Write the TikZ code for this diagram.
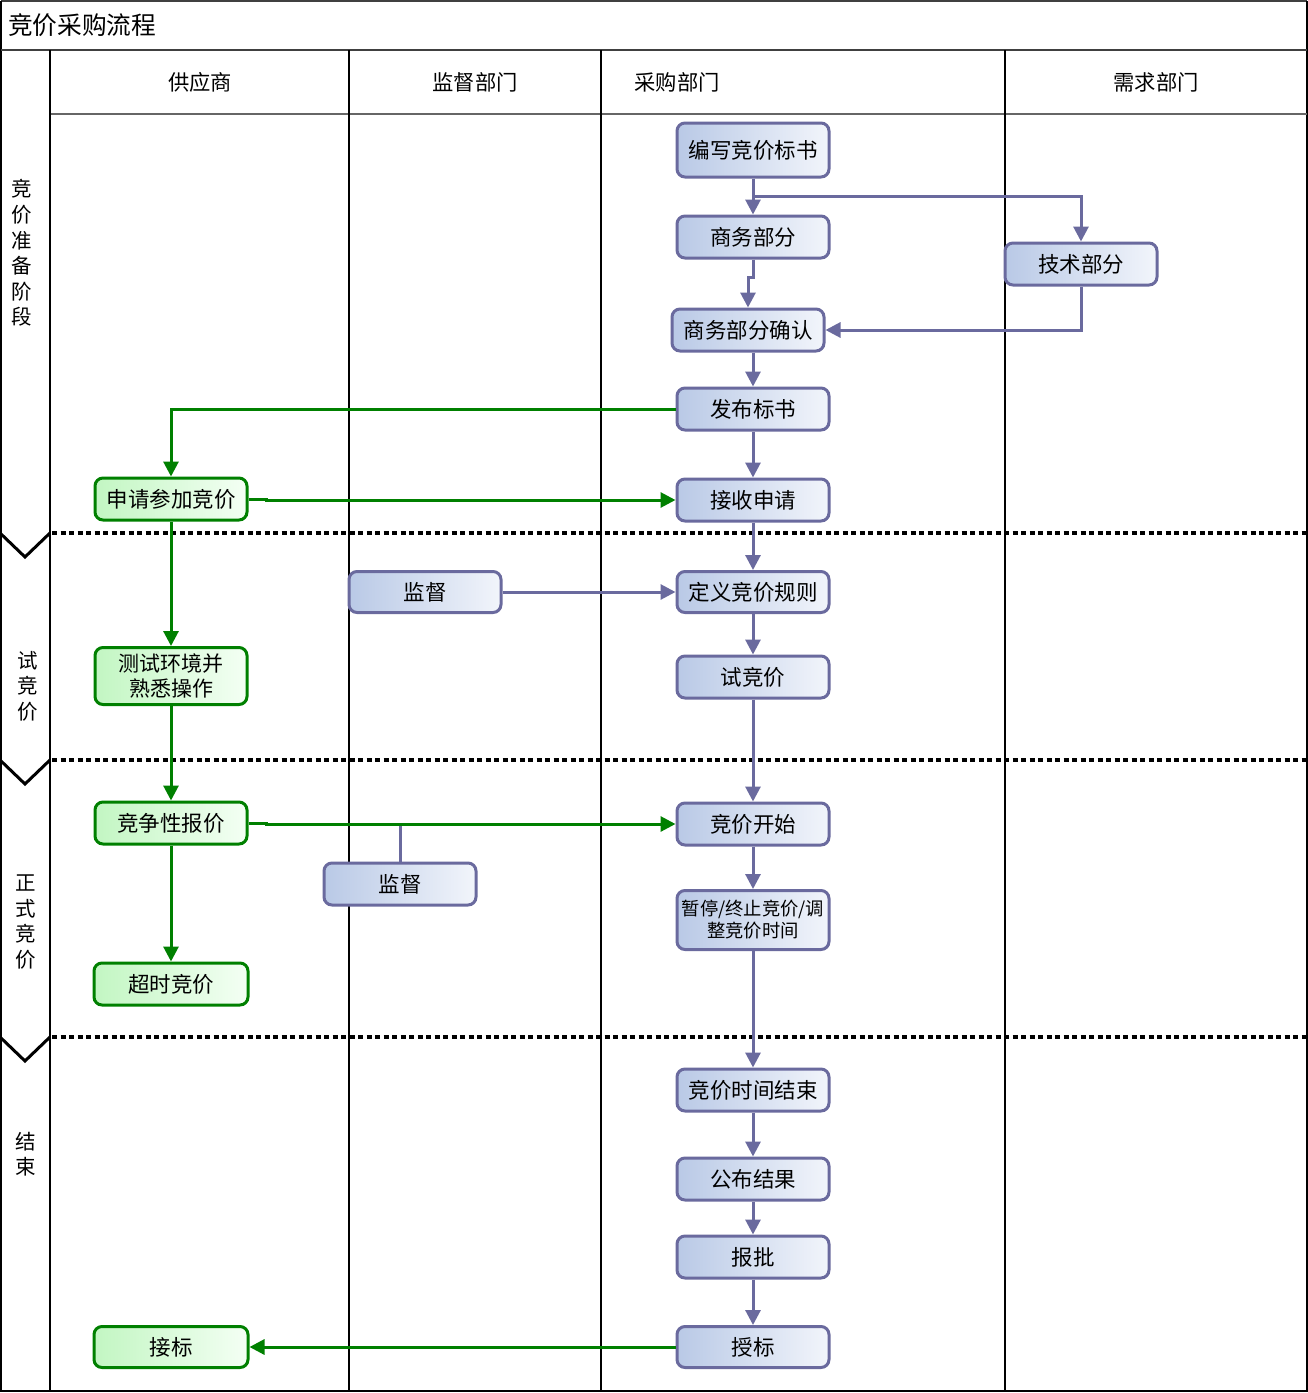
\documentclass[tikz,border=0pt]{standalone}
\usepackage{fontspec}
\setmainfont{Noto Sans CJK SC}
\usetikzlibrary{arrows.meta,calc}
\definecolor{bborder}{HTML}{6A6A9E}
\definecolor{bfillA}{HTML}{B9C9E6}
\definecolor{bfillB}{HTML}{F2F5FB}
\definecolor{gborder}{HTML}{008000}
\definecolor{gfillA}{HTML}{C2F6C2}
\definecolor{gfillB}{HTML}{F4FFF4}
\tikzset{
  boxbase/.style={rounded corners=8pt, line width=3pt, minimum width=152pt, minimum height=42pt, inner sep=0pt, align=center, font=\fontsize{21.5}{25}\selectfont, shading angle=-60},
  bbox/.style={boxbase, draw=bborder, left color=bfillA, right color=bfillB},
  gbox/.style={boxbase, draw=gborder, left color=gfillA, right color=gfillB},
  bline/.style={draw=bborder, line width=3pt},
  gline/.style={draw=gborder, line width=3pt},
  barrow/.style={bline, -{Triangle[length=15pt,width=15pt]}},
  garrow/.style={gline, -{Triangle[length=15pt,width=15pt]}},
  lane/.style={draw=black, line width=1.2pt},
  stagediv/.style={draw=black, line width=3.2pt, dash pattern=on 5pt off 3.5pt},
  chev/.style={draw=black, line width=3pt},
  hdr/.style={font=\fontsize{21.3}{25}\selectfont, inner sep=0pt},
  stage/.style={font=\fontsize{20.5}{25.6}\selectfont, align=center, inner sep=0pt},
}
\begin{document}
\begin{tikzpicture}[x=1pt,y=-1pt]
\useasboundingbox (0,0) rectangle (1308,1393);
\fill[white] (0,0) rectangle (1308,1393);
% frame
\draw[lane, draw=black!75] (1,1) -- (1307,1);
\draw[lane] (1,1) -- (1,1391) -- (1307,1391) -- (1307,1);
\draw[draw=black!75, line width=2.5pt] (1,50) -- (1307,50);
\draw[draw=black!60, line width=1.2pt] (50,114) -- (1307,114);
\foreach \xx in {50,349,601,1005} {\draw[lane] (\xx,50) -- (\xx,1391);}
\node[anchor=west, font=\fontsize{24.7}{28}\selectfont, inner sep=0pt] (title) at (8,25) {竞价采购流程};
% headers
\node[hdr] (h1) at (200,82) {供应商};
\node[hdr] (h2) at (475,82) {监督部门};
\node[hdr] (h3) at (677,82) {采购部门};
\node[hdr] (h4) at (1156,82) {需求部门};
% stage dividers
\foreach \yy in {533,760,1037} {
  \draw[stagediv] (52,\yy) -- (1307,\yy);
  \draw[chev] (0,\yy) -- (25,\yy+24) -- (50,\yy);
}
\node[stage] (s1) at (22,253) {竞\\价\\准\\备\\阶\\段};
\node[stage] (s2) at (28,686) {试\\竞\\价};
\node[stage] (s3) at (26,922) {正\\式\\竞\\价};
\node[stage] (s4) at (26,1154) {结\\束};
% boxes
\node[bbox, minimum height=54pt] (write) at (753,150) {编写竞价标书};
\node[bbox] (biz) at (753,237) {商务部分};
\node[bbox] (tech) at (1081,264) {技术部分};
\node[bbox] (conf) at (748,330) {商务部分确认};
\node[bbox] (pub) at (753,409) {发布标书};
\node[gbox] (apply) at (171,499) {申请参加竞价};
\node[bbox] (recv) at (753,500) {接收申请};
\node[bbox, minimum height=41pt] (sup1) at (425,592) {监督};
\node[bbox, minimum height=41pt] (rule) at (753,592) {定义竞价规则};
\node[gbox, minimum height=57pt, font=\fontsize{21}{24.5}\selectfont] (test) at (171,676) {测试环境并\\熟悉操作};
\node[bbox] (trial) at (753,677) {试竞价};
\node[gbox] (comp) at (171,823) {竞争性报价};
\node[bbox] (start) at (753,824) {竞价开始};
\node[bbox] (sup2) at (400,884) {监督};
\node[bbox, minimum height=59pt, font=\fontsize{18.3}{22}\selectfont] (pause) at (753,920) {暂停/终止竞价/调\\整竞价时间};
\node[gbox, minimum width=154pt] (overtime) at (171,984) {超时竞价};
\node[bbox] (end) at (753,1090) {竞价时间结束};
\node[bbox] (pubres) at (753,1179) {公布结果};
\node[bbox] (report) at (753,1257) {报批};
\node[bbox, minimum height=41pt] (award) at (753,1347) {授标};
\node[gbox, minimum width=154pt, minimum height=41pt] (accept) at (171,1347) {接标};
% connectors
\coordinate (j1) at (753,196);
\draw[barrow] (write.south) -- (biz.north);
\draw[barrow] (j1) -| (tech.north);
\draw[barrow] (biz.south) -- ++(0,18) -| (conf.north);
\draw[barrow] (tech.south) |- (conf.east);
\draw[barrow] (pub.north |- conf.south) -- (pub.north);
\draw[garrow] (pub.west) -| (apply.north);
\draw[barrow] (pub.south) -- (recv.north);
\draw[garrow] (apply.east) -- ++(18,0) |- (recv.west);
\draw[garrow] (apply.south) -- (test.north);
\draw[barrow] (recv.south) -- (rule.north);
\draw[barrow] (sup1.east) -- (rule.west);
\draw[barrow] (rule.south) -- (trial.north);
\draw[garrow] (test.south) -- (comp.north);
\draw[barrow] (trial.south) -- (start.north);
\draw[bline] (sup2.north) -- (sup2.north |- start.west);
\draw[garrow] (comp.east) -- ++(18,0) |- (start.west);
\draw[garrow] (comp.south) -- (overtime.north);
\draw[barrow] (start.south) -- (pause.north);
\draw[barrow] (pause.south) -- (end.north);
\draw[barrow] (end.south) -- (pubres.north);
\draw[barrow] (pubres.south) -- (report.north);
\draw[barrow] (report.south) -- (award.north);
\draw[garrow] (award.west) -- ++(-18,0) |- (accept.east);
\end{tikzpicture}
\end{document}
